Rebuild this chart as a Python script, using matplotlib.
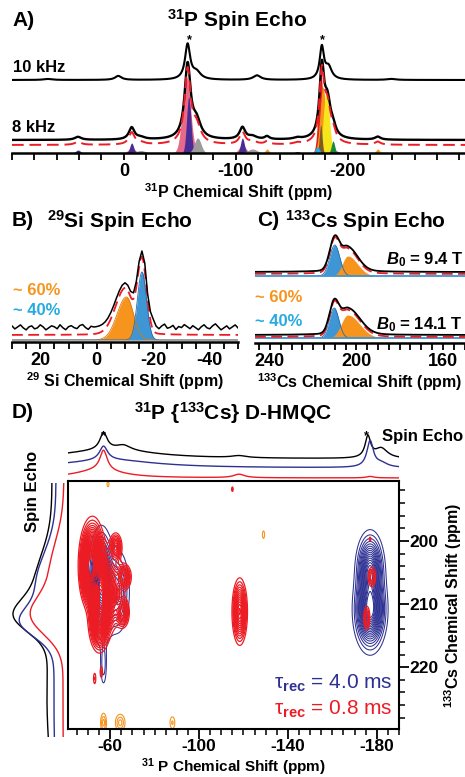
import numpy as np
import matplotlib
matplotlib.use("Agg")
import matplotlib.pyplot as plt
from matplotlib.ticker import MultipleLocator, FixedLocator

W, H = 465, 777

plt.rcParams['font.family'] = ['Liberation Sans', 'DejaVu Sans']
plt.rcParams['font.weight'] = 'bold'
plt.rcParams['mathtext.fontset'] = 'custom'
plt.rcParams['mathtext.rm'] = 'Liberation Sans'
plt.rcParams['mathtext.bf'] = 'Liberation Sans:bold'
plt.rcParams['mathtext.it'] = 'Liberation Sans:bold:italic'
plt.rcParams['axes.unicode_minus'] = False

# ---------------- A) 31P spin echo (peak lists: ppm, fwhm, height) ----------------
a10_pos = [-57, -65, -177, -183, 5, -119, 68, -239]
a10_fwhm = [5.5, 9, 4.5, 7, 7, 8, 9, 9]
a10_amp = [35, 7, 32, 12, 4, 4.5, 1, 1]

a8_pos = [-57, -65, -177, -182, -187, -7, -15, 41, -106, -115, -128, -155, -227]
a8_fwhm = [6.5, 9, 5, 7, 6, 6, 9, 7, 6, 9, 5, 7, 6]
a8_amp = [74, 16, 68, 34, 8, 12, 2, 3, 12, 3, 3, 1.5, 3]

# deconvolution components (ppm, sigma, height, colour)
comp_pos = [-56, -7, -106, -58, -7, -106, 41, -155, -66, -15, -115,
            -176, -190, -178, -128, -227, -181, -229, -176, -187, -173]
comp_sig = [3.6, 3, 3, 1.9, 1.7, 1.7, 2, 2, 3, 4, 4,
            2.2, 2, 2.6, 1.5, 1.5, 2.6, 1.5, 1.2, 1.5, 1.8]
comp_amp = [76, 5, 8, 56, 10, 15, 3, 1.5, 15, 2.5, 4,
            80, 2, 66, 4, 4, 62, 2, 28, 12, 6]
comp_col = ['#e86a8a'] * 3 + ['#4a2c96'] * 5 + ['#9c9c9c'] * 3 + \
           ['#e2231a'] * 2 + ['#f7941d'] * 3 + ['#f6e51a'] * 2 + \
           ['#7b5a26', '#1c8a3c', '#22aee6']

a_off10, a_off8, a_offfit = 73, 13, 8
a_ticklabels = {0: '0', -100: '-100', -200: '-200'}

# ---------------- B) 29Si spin echo ----------------
si_or = (-10.5, 3.3, 2.5, 43)      # ppm, sigma left, sigma right, height
si_bl = (-16, 1.6, 1.6, 68)
si_black = (-10, 3.4, 2.3, 40, -16, 1.6, 71)
si_broad = (-12, 10, 6)           # ppm, fwhm, height
si_fit = (-10, 3.4, 2.3, 42, -16, 1.6, 73)
si_noise = [2, -1, 1, 3, 0, -2, 1, 2, -1, 0, 3, 1, -2, 0, 2, 1, -1, 3, 0, -2,
            1, 2, 0, -1, 2, 3, 0, -2, 1, 0, 0, 0, 0, 0, 0, 0, 0, 0, 0, 0,
            0, 0, 0, 0, 0, 0, 1, 3, -1, 2, 4, 0, -2, 1, 3, -1, 0, 2, -2, 1,
            0, 3, 1, -1, 2, 0, -2, 1, 3, 0, -1, 2, 4, 1, -2, 0, 2, -1, 1, 3, 0]
si_offblack, si_offfit, si_offcomp = 14, 7, 2

# ---------------- C) 133Cs spin echo ----------------
cs_fields = ['9.4', '14.1']
cs_blue = [(210, 2.3, 2.3, 31), (210.3, 2.2, 2.2, 30)]
cs_orange = [(204, 2.5, 4.5, 20), (204, 3.0, 5.5, 23)]
cs_black = [(210, 2.3, 33, 204, 2.5, 4.5, 22), (210.3, 2.2, 31, 204, 3.0, 5.5, 24)]
cs_broad = [(205, 20, 3), (205, 20, 3)]
cs_off = [(71, 69, 67), (8, 6, 5)]   # black, fit, components

# ---------------- D) 31P{133Cs} D-HMQC ----------------
blue_p = [-56, -63, -57, -177, -177]
blue_c = [207, 208, 219.5, 204.5, 211]
blue_sp = [2.6, 3.0, 0.9, 3.0, 3.4]
blue_sc = [4.0, 3.5, 2.2, 2.8, 3.0]
blue_a = [1.0, 0.35, 0.15, 0.75, 1.0]

red_p = [-52, -56, -55, -50, -61, -62.5, -66, -65.5, -53, -56, -118.3, -177.8, -175.5, -177, -115]
red_c = [203, 208.5, 213, 205, 208, 201, 205.7, 211.3, 221.8, 220.8, 211.2, 205.7, 212.2, 199.7, 191.8]
red_sp = [2.6, 2.6, 2.2, 1.8, 2.0, 1.5, 1.8, 1.6, 0.5, 0.5, 1.7, 1.1, 0.9, 0.35, 0.35]
red_sc = [3.0, 3.2, 2.2, 2.5, 3.0, 1.2, 1.1, 1.3, 0.8, 0.8, 2.6, 1.0, 1.2, 0.3, 0.35]
red_a = [0.85, 0.9, 0.5, 0.5, 0.3, 0.35, 0.4, 0.4, 0.1, 0.1, 0.5, 0.2, 0.2, 0.1, 0.1]

or_p = [-59, -129, -57, -64.5, -88]
or_c = [191, 199, 228.8, 228.8, 228.8]
or_sp = [0.35, 0.4, 0.8, 1.3, 0.8]
or_sc = [0.35, 0.5, 0.9, 0.8, 0.7]
or_a = [0.5, 0.5, 1.0, 1.0, 0.6]

# top projections (ppm, fwhm, height) and baselines
top_black = ([-57, -66, -60, -118, -176, -182], [4, 8, 50, 8, 3, 7], [17, 5, 9, 2, 21, 10], 22)
top_blue = ([-57, -60, -177, -182], [4.5, 50, 3.5, 7], [14, 8, 26, 4], 13)
top_red = ([-57, -55, -118, -177], [4, 25, 6, 4], [20, 8, 3.5, 1.5], 3)

# left projections (Cs ppm, sigma, height) and baselines
left_black = ([207, 212, 225], [5, 2.5, 8], [17, 27, 5], 15)
left_blue = ([207, 213, 226], [5, 2.3, 8], [20, 26, 2], 11)
left_red = ([205, 212, 226], [5, 3, 8], [14, 28, 1], 3)

NAVY, RED, ORANGE = '#2e3192', '#ed1c24', '#f7941d'
SIBLUE, LBLUE = '#3f96d4', '#27aae1'


def lor(x, pos, fwhm, amp):
    y = np.zeros_like(x)
    for p, w, a in zip(pos, fwhm, amp):
        y += a / (1 + ((x - p) / (w / 2)) ** 2)
    return y


def gau(x, pos, sig, amp):
    y = np.zeros_like(x)
    for p, s, a in zip(pos, sig, amp):
        y += a * np.exp(-(x - p) ** 2 / (2 * s ** 2))
    return y


def split_gau(x, p, sl, sr, a):
    s = np.where(x > p, sl, sr)
    return a * np.exp(-(x - p) ** 2 / (2 * s ** 2))


def gau2d(P, C, ps, cs, sps, scs, amps):
    Z = np.zeros_like(P)
    for p, c, sp, sc, a in zip(ps, cs, sps, scs, amps):
        Z += a * np.exp(-(P - p) ** 2 / (2 * sp ** 2) - (C - c) ** 2 / (2 * sc ** 2))
    return Z


def px_axes(left, top, right, bottom):
    return fig.add_axes([left / W, 1 - bottom / H, (right - left) / W, (bottom - top) / H])


def ftext(x, y, s, **kw):
    kw.setdefault('ha', 'left')
    kw.setdefault('va', 'center')
    fig.text(x / W, 1 - y / H, s, **kw)


def spectrum_axis(ax, xlim, ylim, step, labels):
    ax.set_xlim(*xlim)
    ax.set_ylim(*ylim)
    for s in ['top', 'right', 'left']:
        ax.spines[s].set_visible(False)
    ax.spines['bottom'].set_linewidth(1.8)
    ax.set_yticks([])
    lo, hi = sorted(xlim)
    ticks = np.arange(np.ceil(lo / step) * step, hi + 0.01, step)
    ax.set_xticks(ticks)
    ax.set_xticklabels([labels.get(int(round(t)), '') for t in ticks])
    ax.tick_params(axis='x', direction='out', length=5, width=1.3, labelsize=13, pad=2)
    for t in ax.get_xticklabels():
        t.set_fontweight('bold')
    ax.patch.set_alpha(0)


fig = plt.figure(figsize=(W / 100, H / 100), dpi=100)

# ---------------- panel A ----------------
axA = px_axes(12, 30, 465, 153)
xa = np.linspace(100, -305, 3000)
spectrum_axis(axA, (100, -305), (0, 123), 20, a_ticklabels)
for p, s, a, c in zip(comp_pos, comp_sig, comp_amp, comp_col):
    yc = gau(xa, [p], [s], [a])
    axA.fill_between(xa, 0, yc, color=c, lw=0)
axA.plot(xa, a_off10 + lor(xa, a10_pos, a10_fwhm, a10_amp), color='k', lw=1.5)
y8 = lor(xa, a8_pos, a8_fwhm, a8_amp)
axA.plot(xa, a_off8 + y8, color='k', lw=1.7)
axA.plot(xa, a_offfit + y8, color=RED, lw=1.4, dashes=(6, 3))
axA.set_xlabel(r'$^{\mathbf{31}}$P Chemical Shift (ppm)', fontsize=11.5, fontweight='bold', labelpad=1)

ftext(12, 20, 'A)', fontsize=15, fontweight='bold')
ftext(237, 20, r'$^{\mathbf{31}}$P Spin Echo', fontsize=15, fontweight='bold', ha='center')
ftext(13, 67, '10 kHz', fontsize=12, fontweight='bold')
ftext(12, 127, '8 kHz', fontsize=12, fontweight='bold')
ftext(189, 40, '*', fontsize=9, ha='center')
ftext(322, 40, '*', fontsize=9, ha='center')

# ---------------- panel B ----------------
axB = px_axes(12, 240, 238, 342)
spectrum_axis(axB, (30, -50), (0, 102), 5, {20: '20', 0: '0', -20: '-20', -40: '-40'})
xb = np.linspace(30, -50, 1200)
yo = split_gau(xb, *si_or)
yb = split_gau(xb, *si_bl)
axB.fill_between(xb, si_offcomp, si_offcomp + yo, color=ORANGE, lw=0)
axB.plot(xb, si_offcomp + yo, color='#d67a10', lw=0.6)
axB.fill_between(xb, si_offcomp, si_offcomp + yb, color=SIBLUE, lw=0)
axB.plot(xb, si_offcomp + yb, color='#2a6aa8', lw=0.6)
p1, sl1, sr1, a1, p2, s2, a2 = si_fit
yfit = split_gau(xb, p1, sl1, sr1, a1) + split_gau(xb, p2, s2, s2, a2) + lor(xb, [si_broad[0]], [si_broad[1]], [si_broad[2]])
axB.plot(xb, si_offfit + yfit, color=RED, lw=1.3, dashes=(6, 3))
xn = np.arange(30, -51, -1.0)
p1, sl1, sr1, a1, p2, s2, a2 = si_black
yblk = split_gau(xn, p1, sl1, sr1, a1) + split_gau(xn, p2, s2, s2, a2) + lor(xn, [si_broad[0]], [si_broad[1]], [si_broad[2]])
axB.plot(xn, si_offblack + yblk + np.array(si_noise), color='k', lw=1.1)
axB.set_xlabel(r'$^{\mathbf{29}}$ Si Chemical Shift (ppm)', fontsize=11.5, fontweight='bold', labelpad=1)

ftext(12, 221, 'B)', fontsize=15, fontweight='bold')
ftext(47, 221, r'$^{\mathbf{29}}$Si Spin Echo', fontsize=15, fontweight='bold')
ftext(13, 291, '~ 60%', fontsize=12, fontweight='bold', color=ORANGE)
ftext(13, 311, '~ 40%', fontsize=12, fontweight='bold', color=LBLUE)

# ---------------- panel C ----------------
axC = px_axes(255, 228, 465, 343)
spectrum_axis(axC, (246.9, 149.8), (0, 115), 5, {240: '240', 200: '200', 160: '160'})
xc = np.linspace(246.9, 149.8, 1500)
for i in range(2):
    ob, of, oc = cs_off[i]
    yb = split_gau(xc, *cs_blue[i])
    yo = split_gau(xc, *cs_orange[i])
    axC.fill_between(xc, oc, oc + yb, color=SIBLUE, lw=0)
    axC.fill_between(xc, oc, oc + yo, color=ORANGE, lw=0)
    axC.plot(xc, oc + yb, color='#2a6aa8', lw=0.6)
    axC.plot(xc, np.full_like(xc, oc), color=SIBLUE, lw=1.2)
    bp, bs, ba, op, osl, osr, oa = cs_black[i]
    yfit = split_gau(xc, bp, bs, bs, ba) + split_gau(xc, op, osl, osr, oa) + lor(xc, [cs_broad[i][0]], [cs_broad[i][1]], [cs_broad[i][2]])
    axC.plot(xc, of + yfit, color=RED, lw=1.3, dashes=(6, 3))
    axC.plot(xc, ob + yfit, color='k', lw=1.3)
axC.set_xlabel(r'$^{\mathbf{133}}$Cs Chemical Shift (ppm)', fontsize=11.5, fontweight='bold', labelpad=1)

ftext(257, 221, 'C)', fontsize=15, fontweight='bold')
ftext(285, 221, r'$^{\mathbf{133}}$Cs Spin Echo', fontsize=15, fontweight='bold')
ftext(463, 260, r'$\mathit{B}_{\mathbf{0}}$ = ' + cs_fields[0] + ' T', fontsize=12, fontweight='bold', ha='right')
ftext(463, 325, r'$\mathit{B}_{\mathbf{0}}$ = ' + cs_fields[1] + ' T', fontsize=12, fontweight='bold', ha='right')
ftext(255, 297, '~ 60%', fontsize=12, fontweight='bold', color=ORANGE)
ftext(255, 321, '~ 40%', fontsize=12, fontweight='bold', color=LBLUE)

# ---------------- panel D ----------------
xlimD = (-41, -190)
ylimD = (229.8, 190.5)
axD = px_axes(68, 481, 399, 729)
pg = np.linspace(-41, -190, 700)
cg = np.linspace(190.5, 229.8, 450)
P, C = np.meshgrid(pg, cg)
Zb = gau2d(P, C, blue_p, blue_c, blue_sp, blue_sc, blue_a)
Zr = gau2d(P, C, red_p, red_c, red_sp, red_sc, red_a)
Zo = gau2d(P, C, or_p, or_c, or_sp, or_sc, or_a)
axD.contour(P, C, Zb, levels=np.linspace(0.06, 0.95, 18), colors=NAVY, linewidths=0.75)
axD.contour(P, C, Zr, levels=np.linspace(0.06, 1.1, 30), colors=RED, linewidths=0.9)
axD.contour(P, C, Zo, levels=[0.25, 0.55, 0.85], colors=ORANGE, linewidths=0.8)
axD.set_xlim(*xlimD)
axD.set_ylim(*ylimD)
for s in axD.spines.values():
    s.set_linewidth(1.5)
axD.xaxis.set_major_locator(FixedLocator([-60, -100, -140, -180]))
axD.xaxis.set_minor_locator(MultipleLocator(5))
axD.yaxis.set_major_locator(FixedLocator([200, 210, 220]))
axD.yaxis.set_minor_locator(MultipleLocator(2))
axD.yaxis.tick_right()
axD.tick_params(which='major', direction='out', length=7, width=1.3, labelsize=12.5, pad=0.5)
axD.tick_params(which='minor', direction='out', length=4, width=1.1)
for t in axD.get_xticklabels() + axD.get_yticklabels():
    t.set_fontweight('bold')
axD.text(0.982, 0.185, r'τ$_{\mathrm{rec}}$ = 4.0 ms', transform=axD.transAxes, ha='right', va='center',
         fontsize=15, fontweight='normal', color=NAVY)
axD.text(0.982, 0.08, r'τ$_{\mathrm{rec}}$ = 0.8 ms', transform=axD.transAxes, ha='right', va='center',
         fontsize=15, fontweight='normal', color=RED)
ftext(233, 767, r'$^{\mathbf{31}}$ P Chemical Shift (ppm)', fontsize=11, fontweight='bold', ha='center')
ftext(453, 605, r'$^{\mathbf{133}}$Cs Chemical Shift (ppm)', fontsize=11.5, fontweight='bold',
      ha='center', rotation=90)

# top projections
axT = px_axes(68, 428, 399, 481)
axT.set_xlim(*xlimD)
axT.set_ylim(0, 53)
axT.axis('off')
xt = np.linspace(-41, -190, 1500)
for tr, col in [(top_black, 'k'), (top_blue, NAVY), (top_red, RED)]:
    pos, fw, amp, base = tr
    axT.plot(xt, base + lor(xt, pos, fw, amp), color=col, lw=1.0)

# left projections
axL = px_axes(8, 483, 67, 737)
axL.set_xlim(59, 0)
axL.set_ylim(231.1, 190.8)
axL.axis('off')
yl = np.linspace(190.8, 231.1, 800)
for tr, col in [(left_black, 'k'), (left_blue, NAVY), (left_red, RED)]:
    pos, sg, amp, base = tr
    axL.plot(base + gau(yl, pos, sg, amp), yl, color=col, lw=1.0)

ftext(12, 413, 'D)', fontsize=15, fontweight='bold')
ftext(233, 413, r'$^{\mathbf{31}}$P {$^{\mathbf{133}}$Cs} D-HMQC', fontsize=15, fontweight='bold', ha='center')
ftext(103, 436, '*', fontsize=9, ha='center')
ftext(366, 436, '*', fontsize=9, ha='center')
ftext(463, 437, 'Spin Echo', fontsize=12, fontweight='bold', ha='right')
ftext(32, 491, 'Spin Echo', fontsize=12, fontweight='bold', ha='center', rotation=90)

fig.savefig('out.png', dpi=100)
